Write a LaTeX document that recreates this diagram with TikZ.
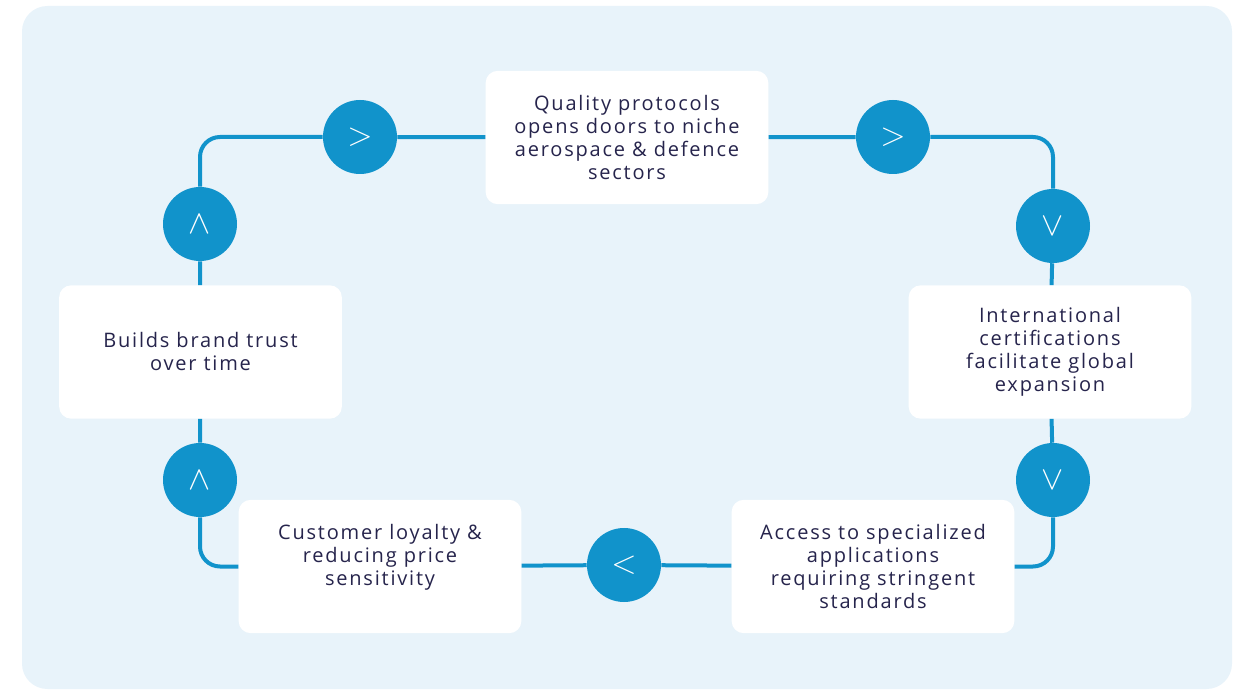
\documentclass[tikz,border=0pt]{standalone}
\usepackage{fontspec}
\setmainfont[LetterSpace=9]{Open Sans}
\usetikzlibrary{positioning}
\definecolor{bgc}{HTML}{E8F3FA}
\definecolor{linec}{HTML}{1193CB}
\definecolor{txtc}{HTML}{26244C}
\tikzset{
  boxstyle/.style={fill=white, rounded corners=9pt, minimum width=212pt, minimum height=100pt, align=center, text=txtc, font=\fontsize{15}{17.25}\selectfont, inner sep=0pt},
  circstyle/.style={circle, fill=linec, minimum size=55.5pt, inner sep=0pt, text=white, font=\fontsize{26}{26}\selectfont},
  conn/.style={draw=linec, line width=3pt, rounded corners=15pt},
}
\begin{document}
\begin{tikzpicture}[x=0.75pt,y=-0.75pt]
\useasboundingbox (0,0) rectangle (1243,691);
\fill[bgc, rounded corners=19pt] (22,6) rectangle (1232,689);
% boxes
\node[boxstyle] (top) at (627,137.5) {Quality protocols\\opens doors to niche\\aerospace \& defence\\sectors};
\node[boxstyle] (rbox) at (1050,352) {International\\certifications\\facilitate global\\expansion};
\node[boxstyle] (brbox) at (873,566.5) {Access to specialized\\applications\\requiring stringent\\standards};
\node[boxstyle] (blbox) at (380,566.5) {Customer loyalty \&\\reducing price\\sensitivity\\\mbox{}};
\node[boxstyle] (lbox) at (200.5,352) {Builds brand trust\\over time};
% circles
\node[circstyle] (r1) at (360,137) {$>$};
\node[circstyle] (r2) at (893,137) {$>$};
\node[circstyle] (d1) at (1053,226) {$\vee$};
\node[circstyle] (d2) at (1053,480) {$\vee$};
\node[circstyle] (l1) at (624,565) {$<$};
\node[circstyle] (u1) at (200,480) {$\wedge$};
\node[circstyle] (u2) at (200,224) {$\wedge$};
% connectors
\draw[conn] (lbox) -- (u2);
\draw[conn] (u2) |- (r1);
\draw[conn] (r1) -- (top);
\draw[conn] (top) -- (r2);
\draw[conn] (r2) -| (d1);
\draw[conn] (d1) -- (rbox);
\draw[conn] (rbox) -- (d2);
\draw[conn] (d2) |- (brbox);
\draw[conn] (brbox) -- (l1);
\draw[conn] (l1) -- (blbox);
\draw[conn] (blbox) -| (u1);
\draw[conn] (u1) -- (lbox);
\end{tikzpicture}
\end{document}
